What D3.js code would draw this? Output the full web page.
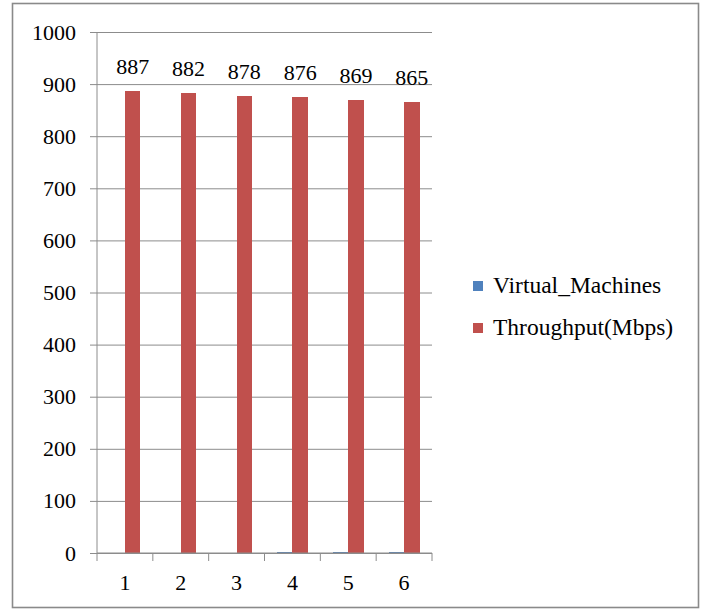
<!DOCTYPE html>
<html>
<head>
<meta charset="utf-8">
<script src="https://cdn.jsdelivr.net/npm/d3@7"></script>
<style>
  html, body { margin: 0; padding: 0; background: #fff; }
  svg { display: block; }
  svg text { font-family: "Liberation Serif", Tinos, "Times New Roman", "DejaVu Serif", serif !important; fill: #000; }
</style>
</head>
<body>
<svg id="chart" width="707" height="610"></svg>
<script>
// Data
const categories = ["1", "2", "3", "4", "5", "6"];
const seriesNames = ["Virtual_Machines", "Throughput(Mbps)"];
const virtualMachines = [0, 0, 0, 2, 2, 2];
const throughput = [887, 882, 878, 876, 869, 865];
const yTicks = [0, 100, 200, 300, 400, 500, 600, 700, 800, 900, 1000];
const seriesColors = ["#4F81BD", "#C0504D"];

const serif = "'Liberation Serif', Tinos, 'Times New Roman', 'DejaVu Serif', serif";
const svg = d3.select("#chart");

// Outer frame
svg.append("rect")
  .attr("x", 12.5).attr("y", 3.5)
  .attr("width", 686).attr("height", 604)
  .attr("fill", "#fff")
  .attr("stroke", "#8a8a8a")
  .attr("stroke-width", 1.6);

const plot = { left: 97, right: 432, top: 32, bottom: 553 };

const x0 = d3.scaleBand()
  .domain(categories)
  .range([plot.left, plot.right])
  .padding(0);

const x1 = d3.scaleBand()
  .domain(seriesNames)
  .range([0, x0.bandwidth()])
  .paddingInner(0)
  .paddingOuter(0.8);

const y = d3.scaleLinear()
  .domain([0, 1000])
  .range([plot.bottom, plot.top]);

// Horizontal gridlines + y axis labels
const yAxis = d3.axisLeft(y)
  .tickValues(yTicks)
  .tickSize(-(plot.right - plot.left))
  .tickPadding(21)
  .tickFormat(d3.format("d"));

const gy = svg.append("g")
  .attr("transform", `translate(${plot.left},0)`)
  .call(yAxis)
  .attr("font-family", serif);
gy.select(".domain").remove();
gy.selectAll(".tick line")
  .attr("x1", -7)
  .attr("stroke", "#8c8c8c")
  .attr("stroke-width", 1);
gy.selectAll(".tick text")
  .attr("font-size", 22)
  .attr("fill", "#000");

// Vertical axis line
svg.append("line")
  .attr("x1", plot.left).attr("x2", plot.left)
  .attr("y1", plot.top).attr("y2", plot.bottom)
  .attr("stroke", "#8c8c8c").attr("stroke-width", 1);

// Bars
const rows = categories.map((c, i) => ({
  cat: c,
  values: [virtualMachines[i], throughput[i]]
}));

const groups = svg.append("g")
  .attr("font-family", serif)
  .selectAll("g")
  .data(rows)
  .join("g")
  .attr("transform", d => `translate(${x0(d.cat)},0)`);

groups.selectAll("rect")
  .data(d => d.values.map((v, k) => ({ key: seriesNames[k], value: v, k })))
  .join("rect")
  .attr("x", d => x1(d.key))
  .attr("width", x1.bandwidth())
  .attr("y", d => y(d.value))
  .attr("height", d => y(0) - y(d.value))
  .attr("shape-rendering", "crispEdges")
  .attr("fill", d => seriesColors[d.k]);

// Value labels over throughput bars
groups.append("text")
  .attr("x", x1(seriesNames[1]) + x1.bandwidth() / 2)
  .attr("y", d => y(d.values[1]) - 17)
  .attr("text-anchor", "middle")
  .attr("font-size", 22)
  .text(d => d.values[1]);

// Category axis: baseline with ticks at band boundaries
const gx = svg.append("g").attr("font-family", serif);
gx.append("line")
  .attr("x1", plot.left).attr("x2", plot.right)
  .attr("y1", plot.bottom).attr("y2", plot.bottom)
  .attr("stroke", "#8c8c8c").attr("stroke-width", 1);

const boundaries = categories.map(c => x0(c)).concat([plot.right]);
gx.selectAll("line.tick")
  .data(boundaries)
  .join("line")
  .attr("class", "tick")
  .attr("x1", d => d).attr("x2", d => d)
  .attr("y1", plot.bottom).attr("y2", plot.bottom + 8)
  .attr("stroke", "#8c8c8c").attr("stroke-width", 1);

gx.selectAll("text")
  .data(categories)
  .join("text")
  .attr("x", d => x0(d) + x0.bandwidth() / 2)
  .attr("y", 590)
  .attr("text-anchor", "middle")
  .attr("font-size", 22)
  .text(d => d);

// Legend
const legend = svg.append("g")
  .attr("font-family", serif)
  .attr("transform", "translate(473,281)");
const items = legend.selectAll("g")
  .data(seriesNames)
  .join("g")
  .attr("transform", (d, i) => `translate(0,${i * 42})`);
items.append("rect")
  .attr("width", 10).attr("height", 10)
  .attr("fill", (d, i) => seriesColors[i]);
items.append("text")
  .attr("x", 20)
  .attr("y", 12)
  .attr("font-size", 23.5)
  .text(d => d);
</script>
</body>
</html>
